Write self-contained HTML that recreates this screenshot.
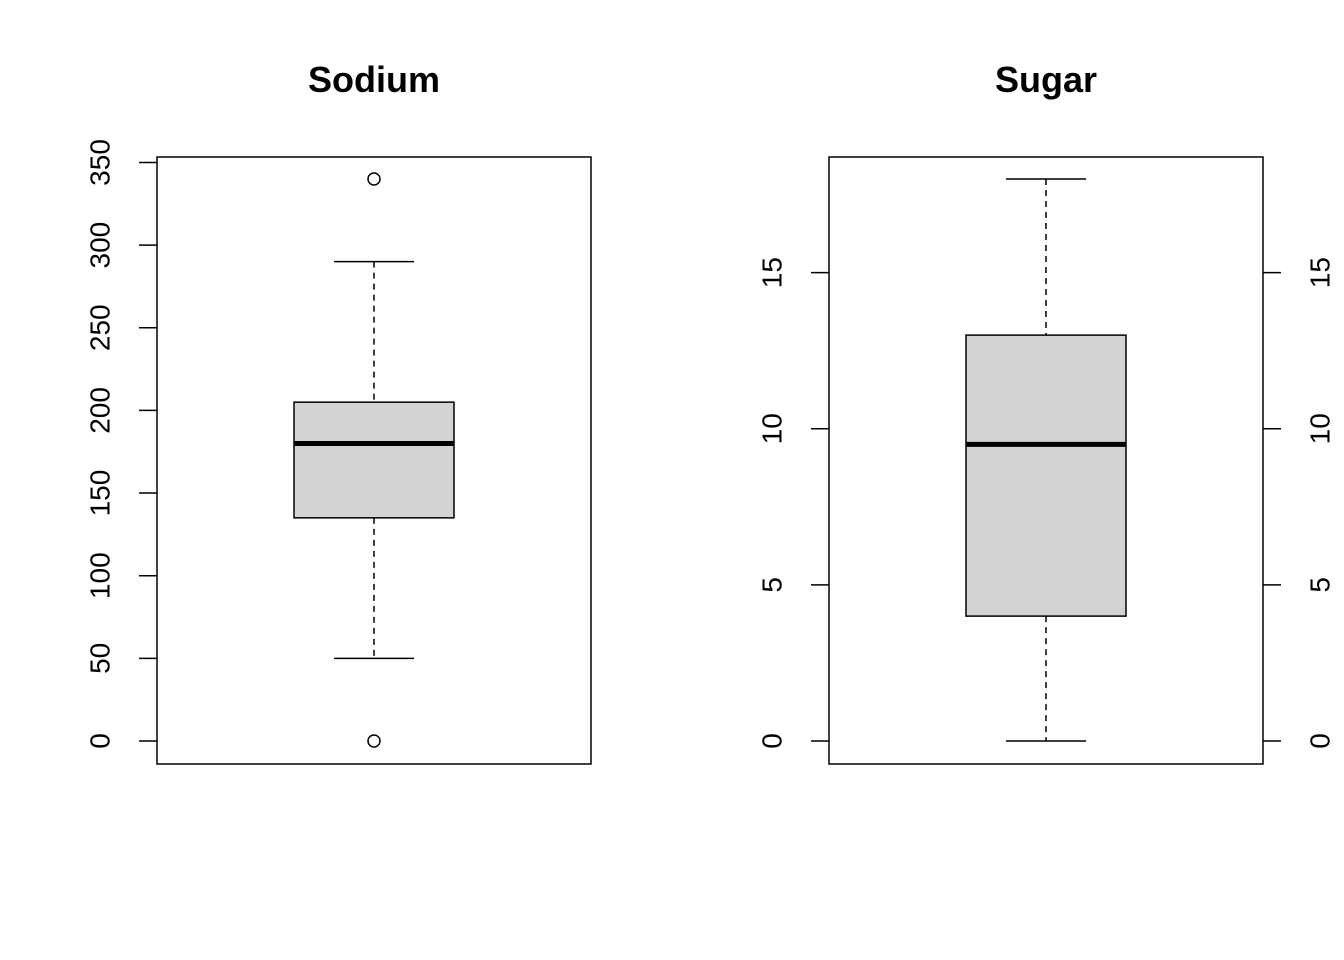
<!DOCTYPE html>
<html><head><meta charset="utf-8"><style>
html,body{margin:0;padding:0;background:#fff}
svg{display:block;font-family:"Liberation Sans",Arial,sans-serif}
</style></head><body>
<svg id="chart" width="1344" height="960" viewBox="0 0 1344 960"></svg>
<script>
const panelTitles = ["Sodium", "Sugar"];
const sodiumStats = [50, 135, 180, 205, 290];
const sodiumOutliers = [340, 0];
const sodiumTicks = [0, 50, 100, 150, 200, 250, 300, 350];
const sugarStats = [0, 4, 9.5, 13, 18];
const sugarOutliers = [];
const sugarTicks = [0, 5, 10, 15];

const NS = "http://www.w3.org/2000/svg";
const svg = document.getElementById("chart");
function mk(tag, attrs, parent) {
  const e = document.createElementNS(NS, tag);
  for (const k in attrs) e.setAttribute(k, attrs[k]);
  (parent || svg).appendChild(e);
  return e;
}

function panel(idx, x0, x1, stats, outs, ticks, vMin, vMax, rightAxis) {
  const g = mk("g", {});
  
  
  const yTop = 179, yBot = 741;
  const y = v => yBot - (v - vMin) / (vMax - vMin) * (yBot - yTop);
  const cx = (x0 + x1) / 2;

  const t = mk("text", {x: cx, y: 92, "text-anchor": "middle", "font-size": 36, "font-weight": "bold"}, g);
  t.textContent = panelTitles[idx];
  
  

  const frame = mk("rect", {x: x0, y: 157, width: x1 - x0, height: 607, fill: "none", stroke: "#000", "stroke-width": 1.5}, g);
  
  

  const sides = rightAxis ? [[x0, -1], [x1, 1]] : [[x0, -1]];
  sides.forEach(([ax, dir]) => {
    const axg = mk("g", {}, g);
    
    
    ticks.forEach(tv => {
      const ty = y(tv);
      mk("line", {x1: ax + dir * 18, x2: ax, y1: ty, y2: ty, stroke: "#000", "stroke-width": 1.5}, axg);
      const lx = ax + dir * 57;
      const lab = mk("text", {x: lx, y: ty, "text-anchor": "middle", "dominant-baseline": "central", "font-size": 28,
        transform: `rotate(-90 ${lx} ${ty})`}, axg);
      lab.textContent = tv;
      
      
    });
  });

  const bg = mk("g", {}, g);
  
  
  const [wLo, q1, med, q3, wHi] = stats;
  mk("line", {x1: cx, x2: cx, y1: y(wHi), y2: y(q3), stroke: "#000", "stroke-width": 1.5, "stroke-dasharray": "6,5"}, bg);
  mk("line", {x1: cx, x2: cx, y1: y(q1), y2: y(wLo), stroke: "#000", "stroke-width": 1.5, "stroke-dasharray": "6,5"}, bg);
  mk("line", {x1: cx - 40, x2: cx + 40, y1: y(wHi), y2: y(wHi), stroke: "#000", "stroke-width": 1.5}, bg);
  mk("line", {x1: cx - 40, x2: cx + 40, y1: y(wLo), y2: y(wLo), stroke: "#000", "stroke-width": 1.5}, bg);
  mk("rect", {x: cx - 80, y: y(q3), width: 160, height: y(q1) - y(q3), fill: "#d3d3d3", stroke: "#000", "stroke-width": 1.5}, bg);
  mk("line", {x1: cx - 80, x2: cx + 80, y1: y(med), y2: y(med), stroke: "#000", "stroke-width": 5}, bg);
  outs.forEach(o => {
    const c = mk("circle", {cx: cx, cy: y(o), r: 6, fill: "none", stroke: "#000", "stroke-width": 1.5}, bg);
    
    
  });
}

panel(0, 157, 591, sodiumStats, sodiumOutliers, sodiumTicks, 0, 340, false);
panel(1, 829, 1263, sugarStats, sugarOutliers, sugarTicks, 0, 18, true);
</script>
</body></html>
